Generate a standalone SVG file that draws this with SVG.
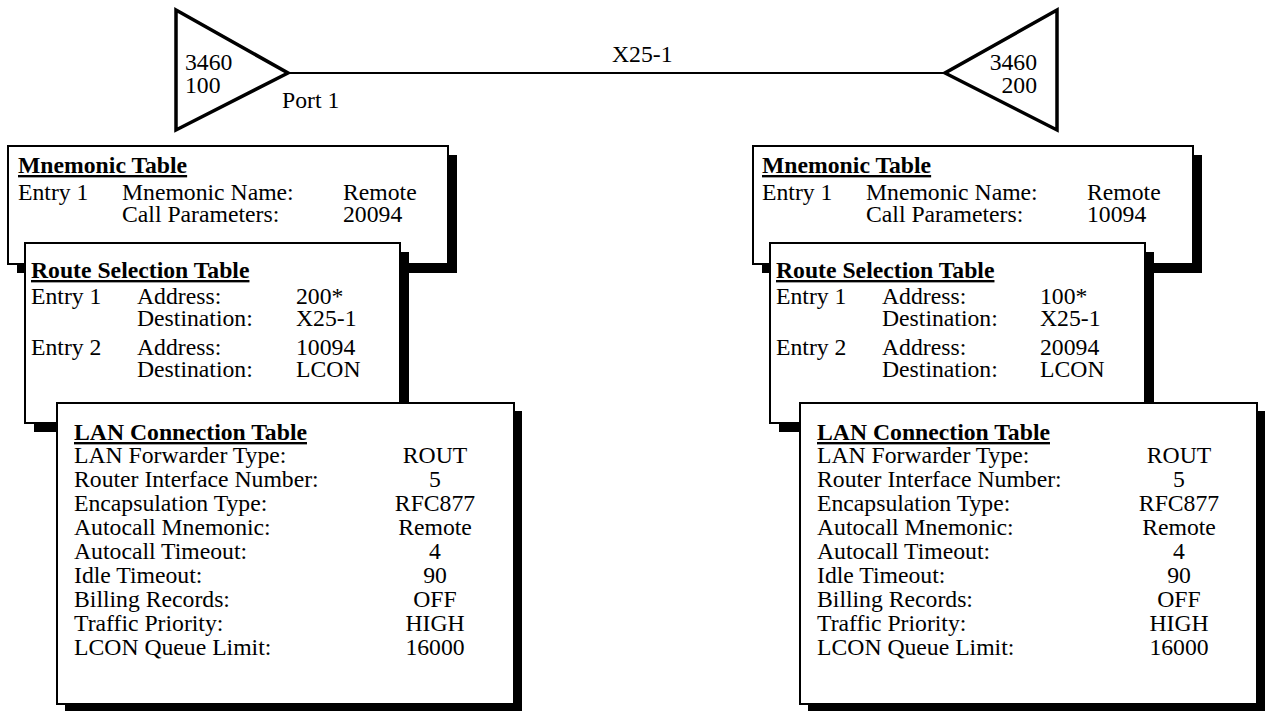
<svg xmlns="http://www.w3.org/2000/svg" width="1270" height="711" viewBox="0 0 1270 711">
<style>
.t{font-family:"Liberation Serif","Times New Roman",serif;font-size:23.7px;fill:#000}
.h{font-weight:bold;text-decoration:underline}
.m{text-anchor:middle}
.e{text-anchor:end}
.box{fill:#fff;stroke:#000;stroke-width:2}
.sh{fill:#000}
.tri{fill:#fff;stroke:#000;stroke-width:3.5;stroke-linejoin:miter}
.ln{stroke:#000;stroke-width:2;fill:none}
</style>
<rect x="0" y="0" width="1270" height="711" fill="#fff"/>

<g id="connectors">
<line class="ln" x1="288" y1="73" x2="945" y2="73"/>
<text class="t" x="612" y="62">X25-1</text>
</g>

<g id="router-100">
<polygon class="tri" points="176,10 288,73 176,130"/>
<text class="t" x="185" y="70">3460</text>
<text class="t" x="185" y="93">100</text>
<text class="t" x="282" y="108">Port 1</text>
</g>

<g id="router-200">
<polygon class="tri" points="1057,10 945,73 1057,130"/>
<text class="t e" x="1037" y="70">3460</text>
<text class="t e" x="1037" y="93">200</text>
</g>

<g id="left-mnemonic-table">
<rect class="sh" x="17" y="155" width="440" height="118"/>
<rect class="box" x="8" y="146" width="440" height="118"/>
<text class="t h" x="18" y="173">Mnemonic Table</text>
<text class="t" x="18" y="200">Entry 1</text>
<text class="t" x="122" y="200">Mnemonic Name:</text>
<text class="t" x="343" y="200">Remote</text>
<text class="t" x="122" y="222">Call Parameters:</text>
<text class="t" x="343" y="222">20094</text>
</g>

<g id="left-route-selection-table">
<rect class="sh" x="34" y="252" width="375" height="180"/>
<rect class="box" x="25" y="243" width="375" height="180"/>
<text class="t h" x="31" y="278">Route Selection Table</text>
<text class="t" x="31" y="304">Entry 1</text>
<text class="t" x="137" y="304">Address:</text>
<text class="t" x="296" y="304">200*</text>
<text class="t" x="137" y="326">Destination:</text>
<text class="t" x="296" y="326">X25-1</text>
<text class="t" x="31" y="355">Entry 2</text>
<text class="t" x="137" y="355">Address:</text>
<text class="t" x="296" y="355">10094</text>
<text class="t" x="137" y="377">Destination:</text>
<text class="t" x="296" y="377">LCON</text>
</g>

<g id="left-lan-connection-table">
<rect class="sh" x="65" y="411" width="457" height="301"/>
<rect class="box" x="57" y="403" width="457" height="301"/>
<text class="t h" x="74" y="440">LAN Connection Table</text>
<text class="t" x="74" y="463">LAN Forwarder Type:</text>
<text class="t" x="74" y="487">Router Interface Number:</text>
<text class="t" x="74" y="511">Encapsulation Type:</text>
<text class="t" x="74" y="535">Autocall Mnemonic:</text>
<text class="t" x="74" y="559">Autocall Timeout:</text>
<text class="t" x="74" y="583">Idle Timeout:</text>
<text class="t" x="74" y="607">Billing Records:</text>
<text class="t" x="74" y="631">Traffic Priority:</text>
<text class="t" x="74" y="655">LCON Queue Limit:</text>
<text class="t m" x="435" y="463">ROUT</text>
<text class="t m" x="435" y="487">5</text>
<text class="t m" x="435" y="511">RFC877</text>
<text class="t m" x="435" y="535">Remote</text>
<text class="t m" x="435" y="559">4</text>
<text class="t m" x="435" y="583">90</text>
<text class="t m" x="435" y="607">OFF</text>
<text class="t m" x="435" y="631">HIGH</text>
<text class="t m" x="435" y="655">16000</text>
</g>

<g id="right-mnemonic-table">
<rect class="sh" x="762" y="155" width="440" height="118"/>
<rect class="box" x="753" y="146" width="440" height="118"/>
<text class="t h" x="762" y="173">Mnemonic Table</text>
<text class="t" x="762" y="200">Entry 1</text>
<text class="t" x="866" y="200">Mnemonic Name:</text>
<text class="t" x="1087" y="200">Remote</text>
<text class="t" x="866" y="222">Call Parameters:</text>
<text class="t" x="1087" y="222">10094</text>
</g>

<g id="right-route-selection-table">
<rect class="sh" x="779" y="252" width="375" height="180"/>
<rect class="box" x="770" y="243" width="375" height="180"/>
<text class="t h" x="776" y="278">Route Selection Table</text>
<text class="t" x="776" y="304">Entry 1</text>
<text class="t" x="882" y="304">Address:</text>
<text class="t" x="1040" y="304">100*</text>
<text class="t" x="882" y="326">Destination:</text>
<text class="t" x="1040" y="326">X25-1</text>
<text class="t" x="776" y="355">Entry 2</text>
<text class="t" x="882" y="355">Address:</text>
<text class="t" x="1040" y="355">20094</text>
<text class="t" x="882" y="377">Destination:</text>
<text class="t" x="1040" y="377">LCON</text>
</g>

<g id="right-lan-connection-table">
<rect class="sh" x="808" y="411" width="457" height="301"/>
<rect class="box" x="800" y="403" width="457" height="301"/>
<text class="t h" x="817" y="440">LAN Connection Table</text>
<text class="t" x="817" y="463">LAN Forwarder Type:</text>
<text class="t" x="817" y="487">Router Interface Number:</text>
<text class="t" x="817" y="511">Encapsulation Type:</text>
<text class="t" x="817" y="535">Autocall Mnemonic:</text>
<text class="t" x="817" y="559">Autocall Timeout:</text>
<text class="t" x="817" y="583">Idle Timeout:</text>
<text class="t" x="817" y="607">Billing Records:</text>
<text class="t" x="817" y="631">Traffic Priority:</text>
<text class="t" x="817" y="655">LCON Queue Limit:</text>
<text class="t m" x="1179" y="463">ROUT</text>
<text class="t m" x="1179" y="487">5</text>
<text class="t m" x="1179" y="511">RFC877</text>
<text class="t m" x="1179" y="535">Remote</text>
<text class="t m" x="1179" y="559">4</text>
<text class="t m" x="1179" y="583">90</text>
<text class="t m" x="1179" y="607">OFF</text>
<text class="t m" x="1179" y="631">HIGH</text>
<text class="t m" x="1179" y="655">16000</text>
</g>
</svg>
